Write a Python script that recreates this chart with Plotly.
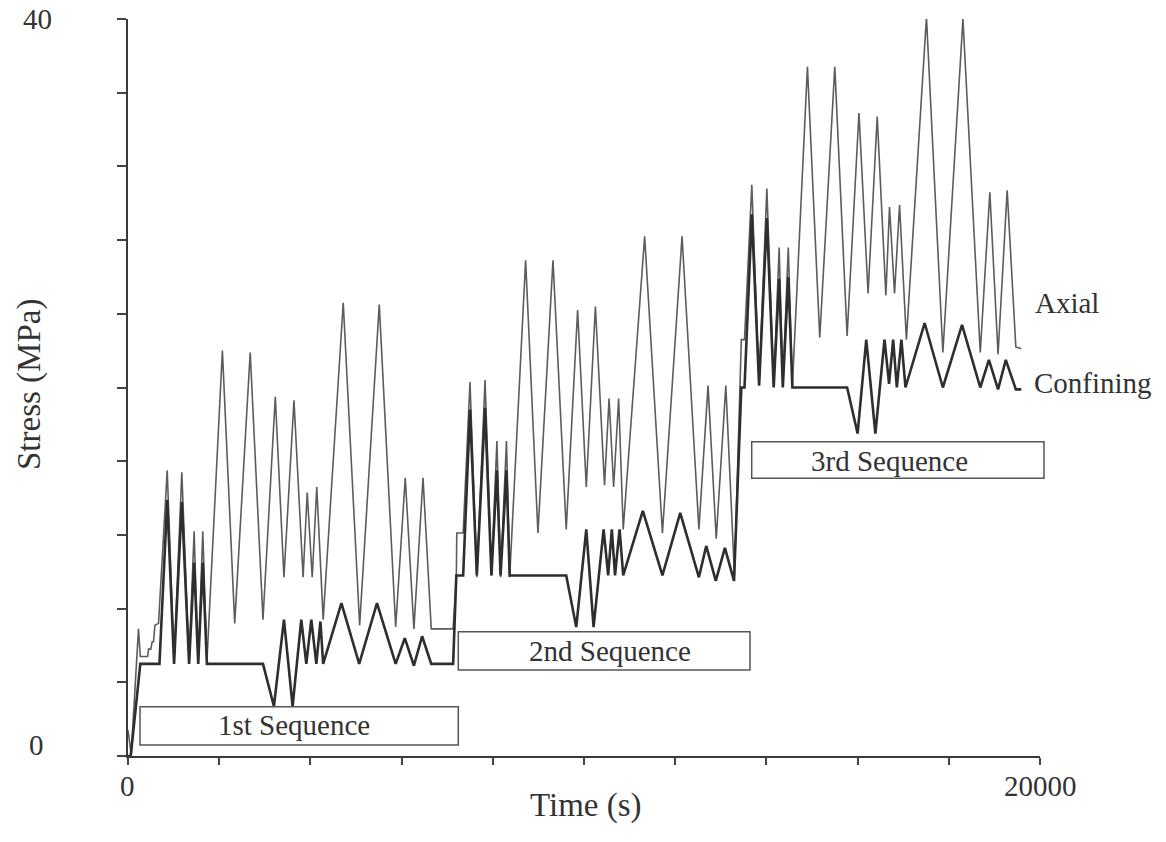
import plotly.graph_objects as go

# ---------------- data (time in s, stress in MPa) ----------------
axial_time = [0, 70, 230, 270, 430, 450, 500, 530, 560, 590, 670,
              860, 1010, 1180, 1340, 1450, 1540, 1640, 1730,
              2070, 2340, 2680, 2960,
              3230, 3420, 3640, 3840,
              3930, 4040, 4140, 4280,
              4720, 5080, 5510, 5870,
              6080, 6270, 6470, 6650, 7130,
              7200, 7210, 7350,
              7500, 7650, 7830, 7970, 8090, 8170, 8300, 8370,
              8720, 8990, 9320, 9610,
              9860, 10050, 10250, 10450,
              10550, 10650, 10760, 10860,
              11330, 11720, 12150, 12520,
              12720, 12900, 13110, 13300,
              13410, 13450, 13520,
              13680, 13840, 14010, 14160, 14280, 14360, 14480, 14570,
              14900, 15170, 15500, 15770,
              16030, 16230, 16430, 16620,
              16700, 16810, 16920, 17070,
              17510, 17870, 18310, 18690,
              18900, 19080, 19280, 19470, 19590]
axial_stress = [1.4, 0.1, 6.9, 5.4, 5.4, 5.8, 5.8, 6.2, 6.2, 7.1, 7.2,
                15.5, 5.1, 15.4, 5.1, 12.2, 5.1, 12.2, 5.1,
                22.0, 7.2, 21.9, 7.4,
                19.5, 9.7, 19.3, 9.7,
                14.3, 9.7, 14.6, 7.4,
                24.6, 7.1, 24.5, 7.0,
                15.1, 6.9, 15.1, 6.9, 6.9,
                9.7, 12.1, 12.1,
                20.3, 9.7, 20.4, 9.8, 17.1, 9.7, 17.1, 9.7,
                26.9, 12.1, 26.9, 12.3,
                24.2, 14.6, 24.4, 14.7,
                19.4, 14.6, 19.4, 12.3,
                28.2, 12.1, 28.2, 12.3,
                20.1, 11.8, 20.1, 9.8,
                20.1, 22.6, 22.6,
                31.0, 20.2, 30.8, 20.1, 27.6, 20.1, 27.6, 20.1,
                37.4, 22.7, 37.4, 22.8,
                34.9, 25.1, 34.7, 25.0,
                29.8, 25.1, 29.9, 22.6,
                40.1, 21.9, 40.0, 21.9,
                30.6, 21.8, 30.7, 22.2, 22.1]

confining_time = [0, 60, 270, 690,
                  860, 1010, 1180, 1340, 1450, 1540, 1640, 1730, 2960,
                  3200, 3420, 3610, 3800,
                  3910, 4020, 4130, 4220, 4280,
                  4680, 5070, 5460, 5870,
                  6070, 6270, 6450, 6650, 7130,
                  7200, 7350,
                  7500, 7650, 7830, 7970, 8090, 8170, 8300, 8370, 9610,
                  9830, 10050, 10210, 10430,
                  10530, 10610, 10680, 10780, 10860,
                  11290, 11720, 12110, 12520,
                  12680, 12890, 13090, 13290,
                  13450, 13520,
                  13680, 13840, 14010, 14160, 14280, 14360, 14480, 14570, 15770,
                  16000, 16190, 16390, 16590,
                  16690, 16780, 16860, 16960, 17050,
                  17470, 17870, 18290, 18690,
                  18880, 19080, 19250, 19470, 19590]
confining_stress = [0, 0, 5.0, 5.0,
                    13.9, 5.0, 13.8, 5.0, 10.5, 5.0, 10.5, 5.0, 5.0,
                    2.7, 7.4, 2.7, 7.4,
                    5.0, 7.4, 5.0, 7.3, 5.0,
                    8.3, 5.0, 8.3, 5.0,
                    6.4, 4.9, 6.5, 5.0, 5.0,
                    9.8, 9.8,
                    18.8, 9.8, 18.9, 9.8, 15.5, 9.8, 15.5, 9.8, 9.8,
                    7.0, 12.3, 7.0, 12.3,
                    9.8, 12.3, 9.8, 12.3, 9.8,
                    13.3, 9.8, 13.2, 9.7,
                    11.4, 9.5, 11.3, 9.5,
                    20.0, 20.0,
                    29.4, 20.1, 29.2, 20.0, 25.9, 20.0, 26.0, 20.0, 20.0,
                    17.5, 22.6, 17.5, 22.6,
                    20.2, 22.6, 20.0, 22.6, 20.0,
                    23.5, 20.0, 23.4, 20.0,
                    21.5, 19.9, 21.5, 19.9, 19.9]

x_tick_vals = list(range(0, 20001, 2000))
y_tick_vals = list(range(0, 41, 4))
x_end_labels = ["0", "20000"]
y_end_labels = ["0", "40"]
series_labels = ["Axial", "Confining"]
sequence_labels = ["1st Sequence", "2nd Sequence", "3rd Sequence"]
x_title = "Time (s)"
y_title = "Stress (MPa)"

# ---------------- layout helpers (pixel -> paper) ----------------
W, H = 1166, 842
L, R, T, B = 128, 1040, 19, 756
FONT = "Liberation Serif, Times New Roman, serif"
TXT = "#333333"


def fx(px):
    return (px - L) / (R - L)


def fy(py):
    return (B - py) / (B - T)


fig = go.Figure()
fig.add_trace(go.Scatter(x=axial_time, y=axial_stress, mode="lines",
                         line=dict(color="#5c5c5c", width=1.6),
                         cliponaxis=False, showlegend=False,
                         name=series_labels[0]))
fig.add_trace(go.Scatter(x=confining_time, y=confining_stress, mode="lines",
                         line=dict(color="#2e2e2e", width=2.6),
                         cliponaxis=False, showlegend=False,
                         name=series_labels[1]))

annotations = []


def add_text(text, px, py, size, xanchor="center", angle=0):
    annotations.append(dict(text=text, x=fx(px), y=fy(py), xref="paper", yref="paper",
                            xanchor=xanchor, yanchor="middle", showarrow=False,
                            textangle=angle,
                            font=dict(family=FONT, size=size, color=TXT)))


add_text(y_end_labels[1], 37, 19, 29)
add_text(y_end_labels[0], 36, 745, 29)
add_text(x_end_labels[0], 127, 786, 29)
add_text(x_end_labels[1], 1040, 786, 29)
add_text(x_title, 586, 805, 33)
add_text(y_title, 30, 385, 33, angle=-90)
add_text(series_labels[0], 1033, 303, 29, xanchor="left")
add_text(series_labels[1], 1032, 383, 29, xanchor="left")

boxes = [(140, 706.7, 458.3, 745), (458.3, 631.7, 750, 670), (751.7, 441.7, 1044, 478.3)]
text_centers = [(294, 725), (610, 651), (889, 461)]
shapes = []
for (x0, y0, x1, y1), lab, (tx, ty) in zip(boxes, sequence_labels, text_centers):
    shapes.append(dict(type="rect", xref="paper", yref="paper",
                       x0=fx(x0), x1=fx(x1), y0=fy(y1), y1=fy(y0),
                       line=dict(color="#555555", width=1.5), fillcolor="rgba(0,0,0,0)",
                       layer="above"))
    add_text(lab, tx, ty, 29)

fig.update_layout(
    width=W, height=H,
    margin=dict(l=L, r=W - R, t=T, b=H - B, pad=0),
    paper_bgcolor="white", plot_bgcolor="white",
    annotations=annotations, shapes=shapes,
    xaxis=dict(range=[0, 20000], tickvals=x_tick_vals, showticklabels=False,
               ticks="outside", ticklen=7, tickwidth=1.5, tickcolor="#444444",
               showline=True, linecolor="#3a3a3a", linewidth=2,
               showgrid=False, zeroline=False, fixedrange=True),
    yaxis=dict(range=[0, 40], tickvals=y_tick_vals, showticklabels=False,
               ticks="outside", ticklen=9, tickwidth=1.5, tickcolor="#444444",
               showline=True, linecolor="#3a3a3a", linewidth=2,
               showgrid=False, zeroline=False, fixedrange=True),
)

fig.write_html("out.html")
